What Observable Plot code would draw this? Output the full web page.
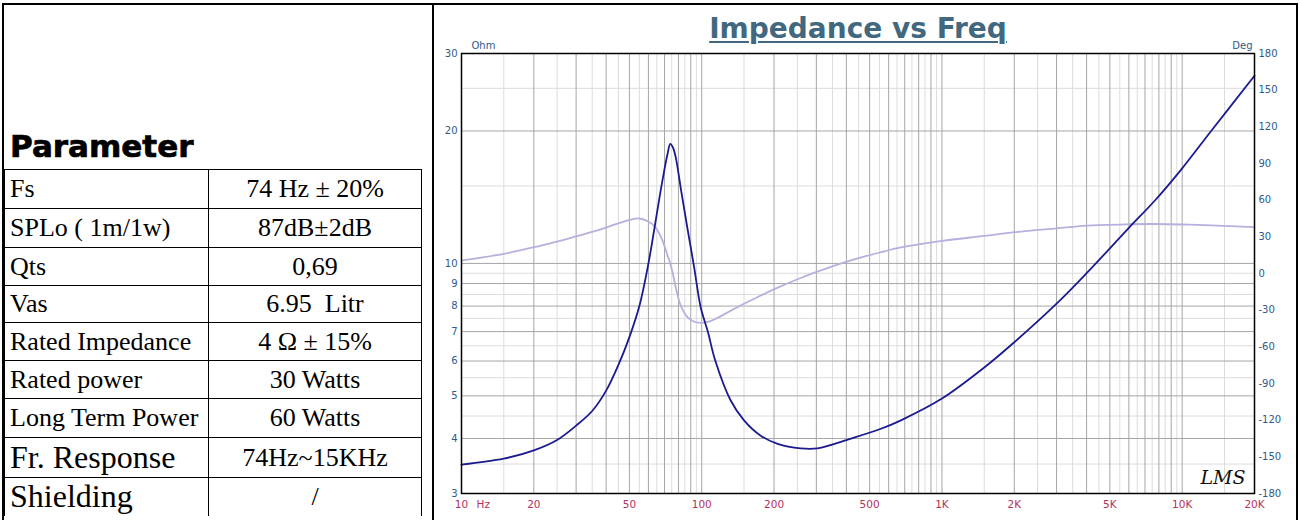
<!DOCTYPE html>
<html>
<head>
<meta charset="utf-8">
<script src="https://cdn.jsdelivr.net/npm/d3@7"></script>
<script src="https://cdn.jsdelivr.net/npm/@observablehq/plot@0.6"></script>
<style>
html, body { margin:0; padding:0; background:#fff; }
body { width:1300px; height:520px; overflow:hidden; position:relative; }
#outer { position:absolute; left:2px; top:3px; width:1296px; height:560px; border:2px solid #000; box-sizing:border-box; }
#divider { position:absolute; left:432px; top:3px; width:2px; height:560px; background:#000; }
#paramTitle { position:absolute; left:10px; top:128px; font-family:"DejaVu Sans"; font-weight:bold; font-size:31px; line-height:36px; color:#000; -webkit-text-stroke:0.7px #000; }
#params { position:absolute; left:4px; top:169px; border-collapse:collapse; font-family:"Liberation Serif"; color:#000; table-layout:fixed; }
#params td { border:1.5px solid #000; padding:0 0 0 5px; font-size:26px; white-space:pre; overflow:hidden; box-sizing:border-box; }
#params td.v { text-align:center; padding:0; }
#params td.big { font-size:32px; }
#params tr.last td { border-bottom:none; }
#title { position:absolute; left:560px; width:596px; top:13px; text-align:center; font-family:"DejaVu Sans"; font-weight:bold; font-size:28px; line-height:32px; color:#41687f; text-decoration:underline; text-decoration-thickness:2px; text-underline-offset:3px; }
#chart { position:absolute; left:434px; top:6px; width:862px; height:514px; }
#chart svg { position:absolute; left:0; top:0; }
</style>
</head>
<body>
<div id="outer"></div>
<div id="divider"></div>
<div id="paramTitle">Parameter</div>
<table id="params"></table>
<div id="title">Impedance vs Freq</div>
<div id="chart"></div>
<script>
// ---------- data ----------
const paramNames = ["Fs", "SPLo ( 1m/1w)", "Qts", "Vas", "Rated Impedance", "Rated power", "Long Term Power", "Fr. Response", "Shielding"];
const paramValues = ["74 Hz \u00b1 20%", "87dB\u00b12dB", "0,69", "6.95  Litr", "4 \u03a9 \u00b1 15%", "30 Watts", "60 Watts", "74Hz~15KHz", "/"];

const freqHz = [10, 15, 20, 25, 30, 35, 40, 45, 50, 55, 60, 64, 68, 72, 74, 76, 78, 82, 87, 93, 99, 106, 114, 132, 150, 176, 207, 258, 303, 418, 557, 675, 1000, 1500, 2000, 3000, 4000, 6000, 7700, 10000, 13200, 20000];
const impedanceOhm = [3.49, 3.60, 3.76, 3.97, 4.28, 4.62, 5.14, 5.88, 6.8, 8.0, 10.0, 12.3, 15.0, 17.7, 18.7, 18.3, 17.4, 14.7, 12.1, 9.8, 7.95, 7.0, 6.0, 4.88, 4.40, 4.06, 3.89, 3.80, 3.80, 4.0, 4.21, 4.40, 4.93, 5.8, 6.62, 8.1, 9.5, 12.05, 13.9, 16.45, 20.0, 26.7];
const phaseDeg = [10.6, 16, 21.5, 26, 30.3, 34, 37.6, 41, 43.8, 45, 42.5, 38, 29, 15, 8, -1, -11.5, -27, -35.5, -39.5, -40.4, -39.6, -37.2, -30.5, -24.8, -18, -11.6, -3.7, 1.6, 10.8, 17.4, 21.3, 26.7, 30.7, 33.8, 37, 39.2, 40.3, 40.5, 40.1, 39.3, 37.9];

const xTicks = [10, 20, 50, 100, 200, 500, 1000, 2000, 5000, 10000, 20000];
const xTickLabels = ["10", "20", "50", "100", "200", "500", "1K", "2K", "5K", "10K", "20K"];
const ohmTicks = [3, 4, 5, 6, 7, 8, 9, 10, 20, 30];
const degTicks = [-180, -150, -120, -90, -60, -30, 0, 30, 60, 90, 120, 150, 180];

const ohmGridMajor = [4, 5, 6, 7, 8, 9, 10, 20];
const ohmGridMinor = [3.5, 4.5, 5.5, 6.5, 7.5, 8.5, 9.5, 15, 25];
const gridDecades = [10, 100, 1000, 10000];
const gridMajorMult = [1, 2, 3, 4, 5, 6, 7, 8, 9];
const gridMinorMult = [1.5, 2.5, 3.5, 4.5, 5.5, 6.5, 7.5, 8.5, 9.5];

// ---------- table ----------
const rowHeights = [39, 39, 38, 37, 38, 38, 39, 40, 38];
const table = d3.select("#params");
const cg = table.append("colgroup");
cg.append("col").style("width", "204px");
cg.append("col").style("width", "213px");
paramNames.forEach((n, i) => {
  const tr = table.append("tr").style("height", rowHeights[i] + "px");
  if (i === paramNames.length - 1) tr.attr("class", "last");
  tr.append("td").attr("class", i >= 7 ? "n big" : "n").text(n);
  tr.append("td").attr("class", "v").text(paramValues[i]);
});

// ---------- chart ----------
const data = freqHz.map((f, i) => ({f, z: impedanceOhm[i], p: phaseDeg[i]}));
const vMajor = gridDecades.flatMap(d => gridMajorMult.map(m => m * d)).filter(v => v > 10 && v < 20000);
const vMinor = gridDecades.flatMap(d => gridMinorMult.map(m => m * d)).filter(v => v > 10 && v < 20000);
const xLabelData = xTicks.map((t, i) => ({t, label: xTickLabels[i]}));

const common = {
  width: 862, height: 514,
  marginLeft: 27, marginRight: 42, marginTop: 47, marginBottom: 27,
  style: {fontFamily: "DejaVu Sans", fontSize: "10px", background: "transparent", overflow: "visible"}
};
const xScale = {type: "log", domain: [10, 20000], axis: null};
const blue = "#2d5a8a";
const red = "#b3305c";

const gridPlot = Plot.plot({
  ...common,
  x: xScale,
  y: {type: "log", domain: [3, 30], axis: null},
  marks: [
    Plot.ruleX(vMinor, {stroke: "#dcdcdc", strokeWidth: 1}),
    Plot.ruleY(ohmGridMinor, {stroke: "#dcdcdc", strokeWidth: 1}),
    Plot.ruleX(vMajor, {stroke: "#a6a6a6", strokeWidth: 1}),
    Plot.ruleY(ohmGridMajor, {stroke: "#a6a6a6", strokeWidth: 1}),
    Plot.text(xLabelData, {x: "t", text: "label", frameAnchor: "bottom", dy: 11, lineAnchor: "middle", fill: red, fontSize: 10.5}),
    Plot.axisY(ohmTicks, {tickSize: 0, tickPadding: 4, tickFormat: d => String(d), fill: blue, label: null}),
    Plot.text(["Ohm"], {frameAnchor: "top-left", dx: 10, dy: -8, textAnchor: "start", lineAnchor: "middle", fill: blue}),
    Plot.text(["Hz"], {frameAnchor: "bottom-left", dx: 15, dy: 11, textAnchor: "start", lineAnchor: "middle", fill: red, fontSize: 10.5})
  ]
});

const phasePlot = Plot.plot({
  ...common,
  x: xScale,
  y: {domain: [-180, 180], axis: null},
  marks: [
    Plot.line(data, {x: "f", y: "p", stroke: "#b5b1de", strokeWidth: 1.8, curve: "catmull-rom"}),
    Plot.axisY(degTicks, {anchor: "right", tickSize: 0, tickPadding: 4, tickFormat: d => String(d), fill: blue, label: null}),
    Plot.text(["Deg"], {frameAnchor: "top-right", dx: -2, dy: -8, textAnchor: "end", lineAnchor: "middle", fill: blue})
  ]
});

const impPlot = Plot.plot({
  ...common,
  x: xScale,
  y: {type: "log", domain: [3, 30], axis: null},
  marks: [
    Plot.line(data, {x: "f", y: "z", stroke: "#1b1b8f", strokeWidth: 1.8, curve: "catmull-rom"}),
    Plot.frame({stroke: "#000", strokeWidth: 1.5}),
    Plot.text(["LMS"], {frameAnchor: "bottom-right", dx: -9, dy: -16, textAnchor: "end", lineAnchor: "middle", fontSize: 19, fontStyle: "italic", fontFamily: "DejaVu Serif", fill: "#111"})
  ]
});

const chart = document.getElementById("chart");
chart.appendChild(gridPlot);
chart.appendChild(phasePlot);
chart.appendChild(impPlot);
</script>
</body>
</html>
